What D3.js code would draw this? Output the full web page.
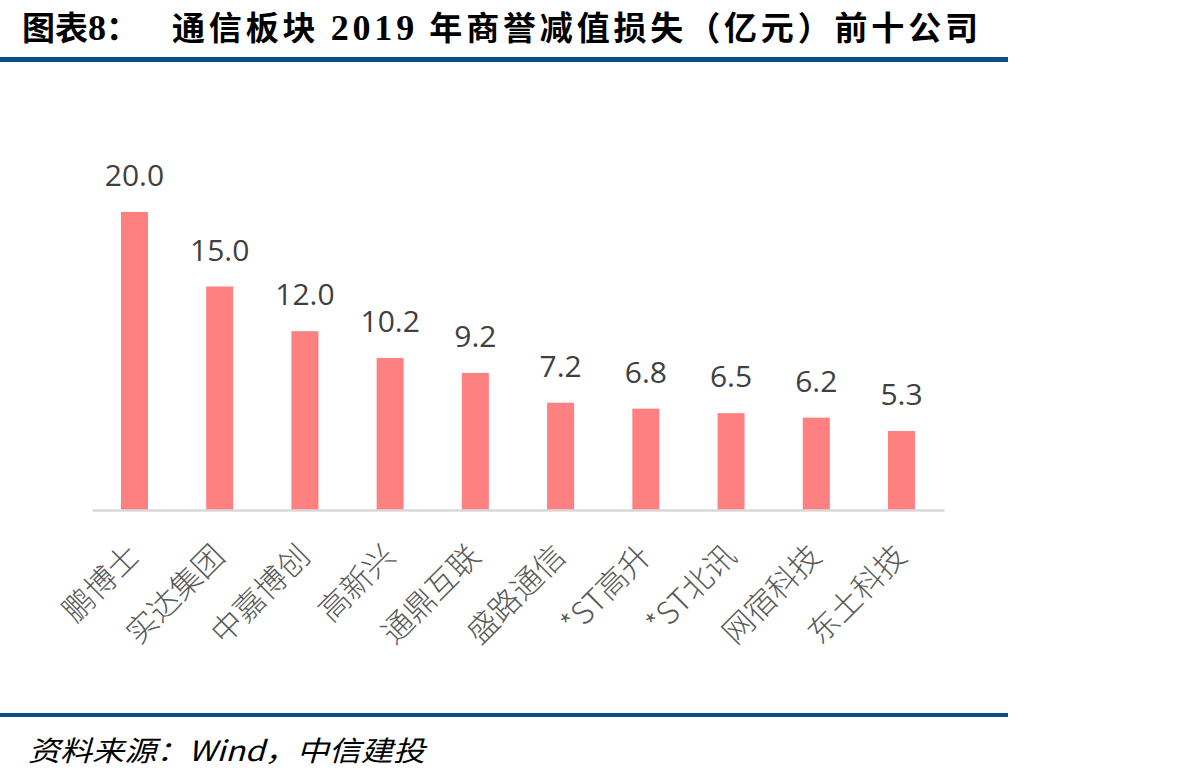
<!DOCTYPE html>
<html>
<head>
<meta charset="utf-8">
<script src="https://cdn.jsdelivr.net/npm/d3@7"></script>
<style>
  body { margin: 0; background: #fff; }
  svg { display: block; }
</style>
</head>
<body>
<svg id="chart"></svg>
<script>
const categories = ['鹏博士', '实达集团', '中嘉博创', '高新兴', '通鼎互联', '盛路通信', '*ST高升', '*ST北讯', '网宿科技', '东土科技']
const values = [20.0, 15.0, 12.0, 10.2, 9.2, 7.2, 6.8, 6.5, 6.2, 5.3]

const W = 1184, H = 782
const svg = d3.select('#chart').attr('width', W).attr('height', H)

// title
const cjk = '"Noto Sans CJK SC", "Noto Sans", sans-serif'
const serif = '"Liberation Serif", "DejaVu Serif", serif'
let t1 = svg.append('text')
    .attr('x', 22).attr('y', 40)
    .attr('font-family', cjk).attr('font-weight', 700).attr('font-size', 33)
    .attr('fill', '#000')
t1.append('tspan').text('图表')
t1.append('tspan').attr('font-family', serif).attr('font-size', 36).text('8')
t1.append('tspan').text('：')

let t2 = svg.append('text')
    .attr('x', 172).attr('y', 40)
    .attr('font-family', cjk).attr('font-weight', 700).attr('font-size', 33)
    .attr('fill', '#000')
    .attr('textLength', 806).attr('lengthAdjust', 'spacing')
t2.append('tspan').text('通信板块 ')
t2.append('tspan').attr('font-family', serif).attr('font-size', 36).text('2019')
t2.append('tspan').text(' 年商誉减值损失（亿元）前十公司')

svg.append('rect').attr('x', 0).attr('y', 57).attr('width', 1008).attr('height', 5).attr('fill', '#0b4f85')
svg.append('rect').attr('x', 0).attr('y', 713).attr('width', 1008).attr('height', 4).attr('fill', '#0b4f85')

// footer
svg.append('text')
    .attr('x', 28).attr('y', 761)
    .attr('font-family', cjk).attr('font-size', 28).attr('font-style', 'italic')
    .attr('fill', '#000')
    .attr('textLength', 397).attr('lengthAdjust', 'spacingAndGlyphs')
    .text('资料来源：Wind，中信建投')

// scales
const x = d3.scaleBand().domain(categories).range([92, 944]).paddingInner(0.683).paddingOuter(0.34)
const y = d3.scaleLinear().domain([0, 20]).range([510, 212])

const data = categories.map((c, i) => ({ c, v: values[i] }))

svg.selectAll('rect.bar').data(data).enter()
    .append('rect')
    .attr('class', 'bar')
    .attr('x', d => x(d.c))
    .attr('y', d => y(d.v))
    .attr('width', x.bandwidth())
    .attr('height', d => y(0) - y(d.v))
    .attr('fill', '#ff8080')

// axis line
const axis = svg.append('g').attr('transform', 'translate(0,' + y(0) + ')')
    .call(d3.axisBottom(x).tickSize(0).tickFormat(''))
axis.select('.domain').attr('stroke', '#d9d9d9').attr('stroke-width', 2.5)

// value labels
svg.selectAll('text.val').data(data).enter()
    .append('text')
    .attr('class', 'val')
    .attr('x', d => x(d.c) + x.bandwidth() / 2)
    .attr('y', d => y(d.v) - 26)
    .attr('text-anchor', 'middle')
    .attr('font-family', '"Open Sans", sans-serif')
    .attr('font-size', 30)
    .attr('fill', '#404040')
    .text(d => d.v.toFixed(1))

// category labels
svg.selectAll('text.cat').data(data).enter()
    .append('text')
    .attr('class', 'cat')
    .attr('text-anchor', 'end')
    .attr('font-family', cjk)
    .attr('font-weight', 300)
    .attr('font-size', 31)
    .attr('fill', '#595959')
    .attr('transform', d => 'translate(' + (x(d.c) + x.bandwidth() / 2 + 7) + ',558) rotate(-45)')
    .text(d => d.c)
</script>
</body>
</html>
